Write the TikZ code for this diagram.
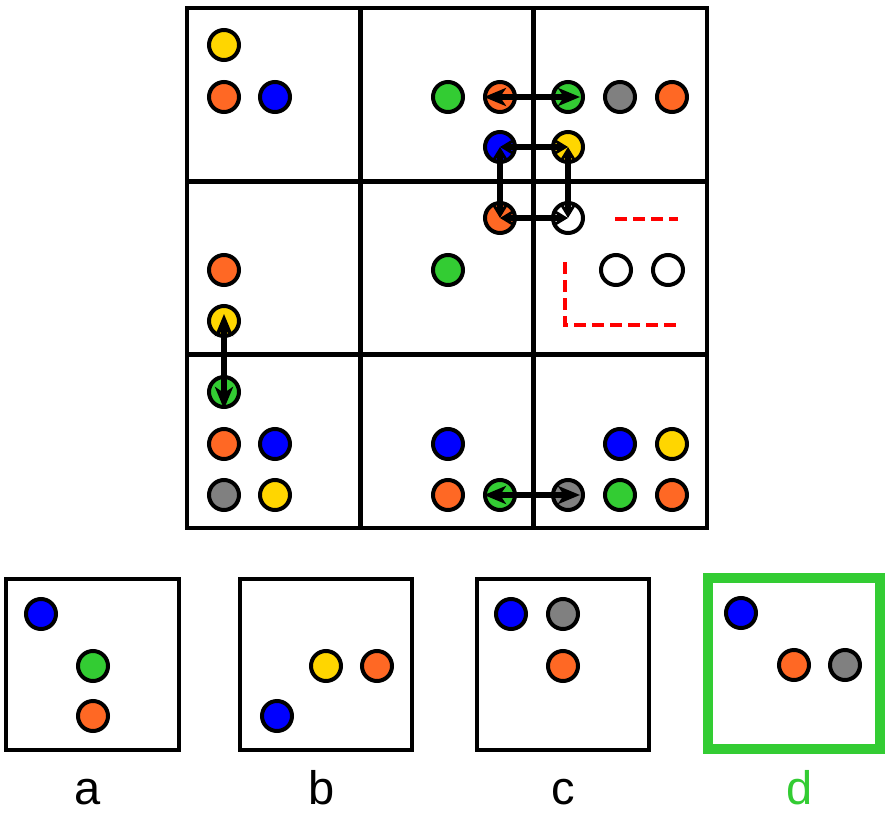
\documentclass[tikz,border=0pt]{standalone}
\usepackage{fontspec}
\setmainfont{Liberation Sans}
\usetikzlibrary{arrows.meta}
\definecolor{orn}{RGB}{255,104,36}
\definecolor{blu}{RGB}{0,0,255}
\definecolor{grn}{RGB}{51,204,51}
\definecolor{gry}{RGB}{128,128,128}
\definecolor{yel}{RGB}{255,214,0}
\tikzset{
  ball/.style={circle,draw=black,line width=4pt,minimum size=30pt,inner sep=0pt},
  gridline/.style={line width=4.2pt,black},
  dblarrow/.style={draw=black,line width=6.5pt,{Stealth[length=22pt,width=18pt,inset=6pt]}-{Stealth[length=22pt,width=18pt,inset=6pt]}},
  sqarrow/.style={draw=black,line width=6pt,{Stealth[length=14pt,width=17pt]}-{Stealth[length=14pt,width=17pt]}},
  reddash/.style={red,line width=4pt,dash pattern=on 12pt off 6pt},
  ansbox/.style={draw=black,line width=4pt,fill=white},
  lbl/.style={font=\fontsize{47}{50}\selectfont,inner sep=0pt}
}
\begin{document}
\begin{tikzpicture}[x=1pt,y=-1pt]
\useasboundingbox (0,0) rectangle (892,814);
% grid
\draw[gridline] (187,8) rectangle (707,528);
\draw[gridline] (360.5,8) -- (360.5,528);
\draw[gridline] (533.5,8) -- (533.5,528);
\draw[gridline] (187,181.5) -- (707,181.5);
\draw[gridline] (187,354.5) -- (707,354.5);
% top-left cell
\node[ball,fill=yel] (tl1) at (224,45) {};
\node[ball,fill=orn] (tl2) at (224,97) {};
\node[ball,fill=blu] (tl3) at (275,97) {};
% top row
\node[ball,fill=grn] (tm1) at (448,97) {};
\node[ball,fill=orn] (tm2) at (500,97) {};
\node[ball,fill=grn] (tr1) at (568,97) {};
\node[ball,fill=gry] (tr2) at (620,97) {};
\node[ball,fill=orn] (tr3) at (672,97) {};
\node[ball,fill=blu] (sqa) at (500,147) {};
\node[ball,fill=yel] (sqb) at (568,147) {};
\node[ball,fill=orn] (sqc) at (500,218) {};
\node[ball,fill=white] (sqd) at (568,218) {};
% middle row
\node[ball,fill=orn] (ml1) at (224,270) {};
\node[ball,fill=yel] (ml2) at (224,321) {};
\node[ball,fill=grn] (mm1) at (448,270) {};
\node[ball,fill=white] (mr1) at (616,270) {};
\node[ball,fill=white] (mr2) at (668,270) {};
% bottom-left
\node[ball,fill=grn] (bl1) at (224,392) {};
\node[ball,fill=orn] (bl2) at (224,444) {};
\node[ball,fill=blu] (bl3) at (275,444) {};
\node[ball,fill=gry] (bl4) at (224,495) {};
\node[ball,fill=yel] (bl5) at (275,495) {};
% bottom-mid
\node[ball,fill=blu] (bm1) at (448,444) {};
\node[ball,fill=orn] (bm2) at (448,495) {};
\node[ball,fill=grn] (bm3) at (500,495) {};
% bottom-right
\node[ball,fill=blu] (br1) at (620,444) {};
\node[ball,fill=yel] (br2) at (672,444) {};
\node[ball,fill=gry] (br3) at (568,495) {};
\node[ball,fill=grn] (br4) at (620,495) {};
\node[ball,fill=orn] (br5) at (672,495) {};
% arrows
\draw[dblarrow,shorten <=-16pt,shorten >=-12pt] (tm2.center) -- (tr1.center);
\draw[dblarrow,shorten <=-16pt,shorten >=-12pt] (bm3.center) -- (br3.center);
\draw[dblarrow,shorten <=-7pt,shorten >=-17pt] (ml2.center) -- (bl1.center);
\draw[sqarrow] (sqa.center) -- (sqb.center);
\draw[sqarrow] (sqb.center) -- (sqd.center);
\draw[sqarrow] (sqd.center) -- (sqc.center);
\draw[sqarrow] (sqc.center) -- (sqa.center);
% red dashed hints
\coordinate (ra) at (615,219);
\coordinate (rb) at (678,219);
\coordinate (rc) at (565,262);
\coordinate (rd) at (565,325);
\coordinate (re) at (680,325);
\draw[reddash] (ra) -- (rb);
\draw[reddash] (rc) -- (rd) -- (re);
% answer boxes
\draw[ansbox] (5.5,578.5) rectangle (178.5,749.5);
\draw[ansbox] (239.5,578.5) rectangle (411.5,749.5);
\draw[ansbox] (476.5,578.5) rectangle (648.5,749.5);
\draw[draw=grn,line width=10pt,fill=white] (707.5,577.5) rectangle (880,748.5);
% answer a
\node[ball,fill=blu] (a1) at (41,614) {};
\node[ball,fill=grn] (a2) at (93,666) {};
\node[ball,fill=orn] (a3) at (93,716) {};
% answer b
\node[ball,fill=yel] (b1) at (326,666) {};
\node[ball,fill=orn] (b2) at (377,666) {};
\node[ball,fill=blu] (b3) at (277,716) {};
% answer c
\node[ball,fill=blu] (c1) at (511,614) {};
\node[ball,fill=gry] (c2) at (563,614) {};
\node[ball,fill=orn] (c3) at (563,666) {};
% answer d
\node[ball,fill=blu] (d1) at (741,613) {};
\node[ball,fill=orn] (d2) at (794,665) {};
\node[ball,fill=gry] (d3) at (845,665) {};
% labels
\node[lbl,anchor=base] (la) at (88,804) {a};
\node[lbl,anchor=base] (lb) at (322,804) {b};
\node[lbl,anchor=base] (lc) at (563,804) {c};
\node[lbl,anchor=base,text=grn] (ld) at (800,804) {d};
\end{tikzpicture}
\end{document}
